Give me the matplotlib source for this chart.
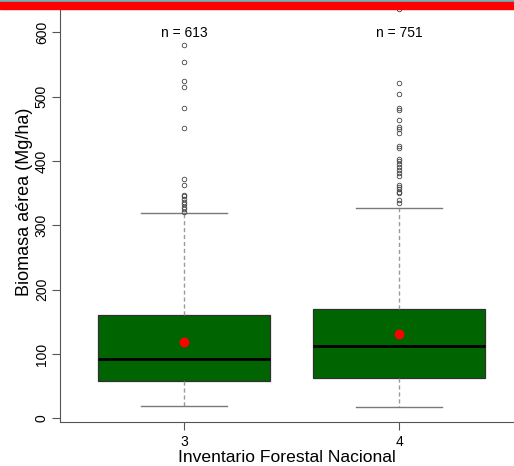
import matplotlib
matplotlib.use("Agg")
import matplotlib.pyplot as plt
from matplotlib.patches import Rectangle

plt.rcParams['font.family'] = ['Liberation Sans', 'DejaVu Sans']

# Inventarios (posición en el eje x)
inventarios = [3, 4]
n_parcelas = [613, 751]

# Estadísticos (Mg/ha)
q1 = [57.5, 62.7]
mediana = [93.0, 111.8]
q3 = [161.0, 169.9]
bigote_inf = [19.2, 17.2]
bigote_sup = [319.0, 326.6]
media = [119.3, 130.9]

atipicos_ifn3 = [581, 554, 524, 515, 483, 452, 372, 362, 347, 345, 341,
                 337, 333, 329, 325, 321]
atipicos_ifn4 = [636, 521, 504, 483, 479, 463, 453, 449, 444, 423, 420,
                 403, 400, 395, 390, 386, 381, 376, 363, 360, 356, 352,
                 350, 339, 335]

stats = []
for i, atip in enumerate([atipicos_ifn3, atipicos_ifn4]):
    stats.append({
        'q1': q1[i], 'med': mediana[i], 'q3': q3[i],
        'whislo': bigote_inf[i], 'whishi': bigote_sup[i],
        'fliers': atip, 'mean': media[i],
    })

fig = plt.figure(figsize=(5.14, 4.66), dpi=100)
ax = fig.add_axes([60 / 514, 44 / 466, 1 - 60 / 514, 1 - 44 / 466])

ax.bxp(stats, positions=inventarios, widths=0.8, patch_artist=True,
       showmeans=True,
       boxprops=dict(facecolor='#006400', edgecolor='#303030', linewidth=0.9),
       medianprops=dict(color='black', linewidth=2.0),
       whiskerprops=dict(color='#9a9a9a', linestyle=(0, (3, 2)), linewidth=1),
       capprops=dict(color='#7a7a7a', linewidth=1),
       capwidths=0.4,
       flierprops=dict(marker='o', markersize=3.3, markerfacecolor='none',
                       markeredgecolor='#444444', markeredgewidth=0.6),
       meanprops=dict(marker='o', markersize=6, markerfacecolor='red',
                      markeredgecolor='red'))

for x, n in zip(inventarios, n_parcelas):
    ax.text(x, 599, f"n = {n}", ha='center', va='center', fontsize=10)

ax.set_xlim(2.422, 4.533)
ax.set_ylim(-5.6, 650.2)
ax.set_yticks([0, 100, 200, 300, 400, 500, 600])
ax.set_xticks(inventarios)
ax.set_xticklabels([str(v) for v in inventarios])
ax.tick_params(axis='y', labelrotation=90, labelsize=10, length=6,
               color='#555555', pad=2)
ax.tick_params(axis='x', labelsize=10, length=6, color='#555555', pad=3)
for lab in ax.get_yticklabels():
    lab.set_va('center')

ax.spines['top'].set_visible(False)
ax.spines['right'].set_visible(False)
ax.spines['left'].set_color('#555555')
ax.spines['bottom'].set_color('#555555')

ax.set_ylabel("Biomasa aérea (Mg/ha)", fontsize=13, va='center')
ax.yaxis.set_label_coords(-0.079, 0.521)
ax.set_xlabel("Inventario Forestal Nacional", fontsize=12.6, labelpad=1)

# franjas superiores
fig.patches.append(Rectangle((0, 1 - 2.3 / 466), 1, 2.3 / 466,
                             transform=fig.transFigure, color='#6ab4bd',
                             zorder=10))
fig.patches.append(Rectangle((0, 1 - 9 / 466), 1, 6.7 / 466,
                             transform=fig.transFigure, color='#ff0000',
                             zorder=10))

fig.savefig("out.png", dpi=100)
